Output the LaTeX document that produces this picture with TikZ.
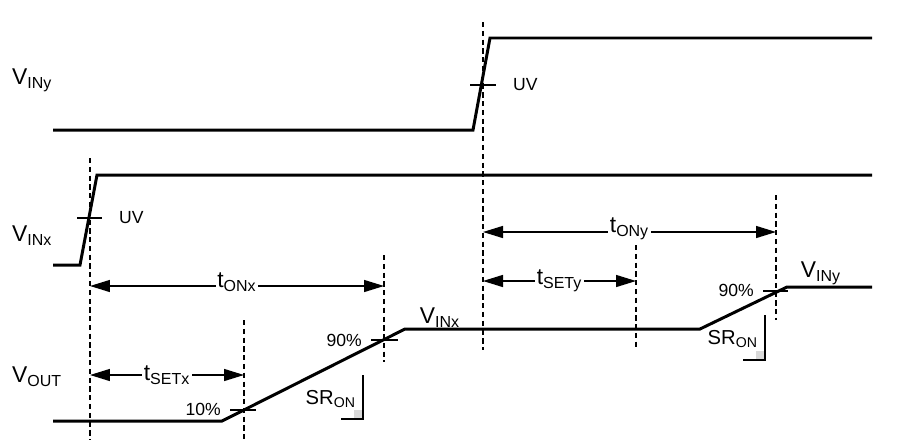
\documentclass[tikz,border=0pt]{standalone}
\usepackage{fontspec}
\setmainfont{Liberation Sans}
\usetikzlibrary{arrows.meta}

\tikzset{
  wave/.style={line width=1.7pt},
  guide/.style={line width=0.6pt,dash pattern=on 3pt off 2pt},
  dimline/.style={line width=0.8pt,{Triangle[length=4mm,width=2.4mm]}-{Triangle[length=4mm,width=2.4mm]}},
  tickmark/.style={line width=0.8pt},
  biglbl/.style={font=\fontsize{13}{15}\selectfont},
  srlbl/.style={font=\fontsize{11.5}{13}\selectfont,anchor=east,inner sep=1pt},
  smalllbl/.style={font=\fontsize{10}{12}\selectfont},
}

\begin{document}
\begin{tikzpicture}[x=0.02cm,y=-0.02cm]
  \useasboundingbox (0,0) rectangle (903,444);

  % signal names
  \node[biglbl,anchor=west] (viny) at (6,80) {V\textsubscript{INy}};
  \node[biglbl,anchor=west] (vinx) at (6,236) {V\textsubscript{INx}};
  \node[biglbl,anchor=west] (vout) at (6,377) {V\textsubscript{OUT}};

  % waveforms
  \draw[wave] (53,130) -- (473,130) -- (490,38) -- (872,38);
  \draw[wave] (53,265) -- (80,265) -- (97,175) -- (872,175);
  \draw[wave] (53,421) -- (222,421) -- (405,329) -- (700,329) -- (787,287) -- (872,287);

  % timing guides
  \draw[guide] (90,158) -- (90,440);
  \draw[guide] (244,320) -- (244,440);
  \draw[guide] (384,255) -- (384,362);
  \draw[guide] (483,22) -- (483,350);
  \draw[guide] (636,245) -- (636,350);
  \draw[guide] (776,195) -- (776,320);

  % threshold marks
  \draw[tickmark] (77,218) -- (102,218) node[smalllbl,right=6pt] (uvx) {UV};
  \draw[tickmark] (470,85) -- (496,85) node[smalllbl,right=6pt] (uvy) {UV};
  \draw[tickmark] (230,410) -- (256,410);
  \node[smalllbl,anchor=east] (p10) at (227,409) {10\%};
  \draw[tickmark] (371,340) -- (398,340);
  \node[smalllbl,anchor=east] (p90x) at (368,340) {90\%};
  \draw[tickmark] (763,291) -- (788,291);
  \node[smalllbl,anchor=east] (p90y) at (760,290) {90\%};

  % level labels
  \node[biglbl] (lvx) at (440,318) {V\textsubscript{INx}};
  \node[biglbl] (lvy) at (821,273) {V\textsubscript{INy}};

  % time intervals
  \coordinate (onxa) at (90,286);  \coordinate (onxb) at (384,286);
  \coordinate (setxa) at (90,375); \coordinate (setxb) at (244,375);
  \coordinate (onya) at (483,232); \coordinate (onyb) at (776,232);
  \coordinate (setya) at (483,281); \coordinate (setyb) at (636,281);
  \draw[dimline] (onxa) -- (onxb) node[midway,biglbl,fill=white,inner sep=1pt,yshift=2pt] {t\textsubscript{ONx}};
  \draw[dimline] (setxa) -- (setxb) node[midway,biglbl,fill=white,inner sep=1pt] {t\textsubscript{SETx}};
  \draw[dimline] (onya) -- (onyb) node[midway,biglbl,fill=white,inner sep=1pt,yshift=2pt] {t\textsubscript{ONy}};
  \draw[dimline] (setya) -- (setyb) node[midway,biglbl,fill=white,inner sep=1pt] {t\textsubscript{SETy}};

  % slew rate marks
  \fill[gray!30] (354,410) rectangle (363,419);
  \draw[tickmark] (363,375) -- (363,419) -- (341,419);
  \node[srlbl] (srx) at (358,399) {SR\textsubscript{ON}};
  \fill[gray!30] (756,351) rectangle (765,360);
  \draw[tickmark] (765,315) -- (765,360) -- (743,360);
  \node[srlbl] (sry) at (760,339) {SR\textsubscript{ON}};
\end{tikzpicture}
\end{document}
